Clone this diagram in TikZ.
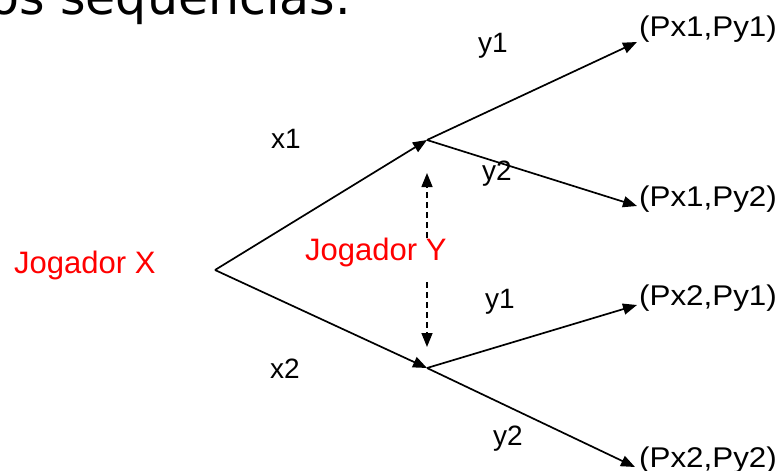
\documentclass[tikz,border=0pt]{standalone}
\usepackage{fontspec}
\setmainfont{Liberation Sans}
\newfontfamily\titlefont{DejaVu Sans}
\newfontfamily\payfont[FakeStretch=1.1]{Liberation Sans}
\usetikzlibrary{arrows.meta}
\definecolor{jred}{RGB}{255,0,0}
\tikzset{
  edge/.style={line width=1.7pt,-{Triangle[length=14pt,width=11pt]}},
  dasharrow/.style={line width=1.5pt,dash pattern=on 6pt off 4pt,-{Triangle[length=14pt,width=11pt]}},
  lbl/.style={inner sep=0pt,anchor=base west,font=\fontsize{28}{30}\selectfont},
  pay/.style={inner sep=0pt,anchor=base west,font=\payfont\fontsize{28.5}{30}\selectfont},
  player/.style={inner sep=0pt,anchor=base west,text=jred,font=\fontsize{31}{33}\selectfont}
}
\begin{document}
\begin{tikzpicture}[x=1pt,y=-1pt]
\useasboundingbox (0,0) rectangle (780,471);
\node[inner sep=0pt,anchor=base west,font=\titlefont\fontsize{49}{52}\selectfont] (title) at (-11,15) {os sequencias.};
\coordinate (r) at (215,270);
\coordinate (a) at (427,140);
\coordinate (b) at (427,368);
\coordinate (e1) at (637,42);
\coordinate (e2) at (637,206);
\coordinate (e3) at (637,305);
\coordinate (e4) at (635,467);
\coordinate (u1) at (427,238);
\coordinate (u2) at (427,173);
\coordinate (d1) at (427,282);
\coordinate (d2) at (427,347);
\draw[edge] (r) -- (a);
\draw[edge] (r) -- (b);
\draw[edge] (a) -- (e1);
\draw[edge] (a) -- (e2);
\draw[edge] (b) -- (e3);
\draw[edge] (b) -- (e4);
\draw[dasharrow] (u1) -- (u2);
\draw[dasharrow] (d1) -- (d2);
\node[player] (px) at (14,273) {Jogador X};
\node[player] (py) at (305,260) {Jogador Y};
\node[lbl] (x1) at (271,148) {x1};
\node[lbl] (x2) at (270,378) {x2};
\node[lbl] (y1a) at (478,52) {y1};
\node[lbl] (y2a) at (482,180) {y2};
\node[lbl] (y1b) at (485,308) {y1};
\node[lbl] (y2b) at (493,445) {y2};
\node[pay] (p11) at (639,36) {(Px1,Py1)};
\node[pay] (p12) at (639,206) {(Px1,Py2)};
\node[pay] (p21) at (639,305) {(Px2,Py1)};
\node[pay] (p22) at (639,467) {(Px2,Py2)};
\end{tikzpicture}
\end{document}
